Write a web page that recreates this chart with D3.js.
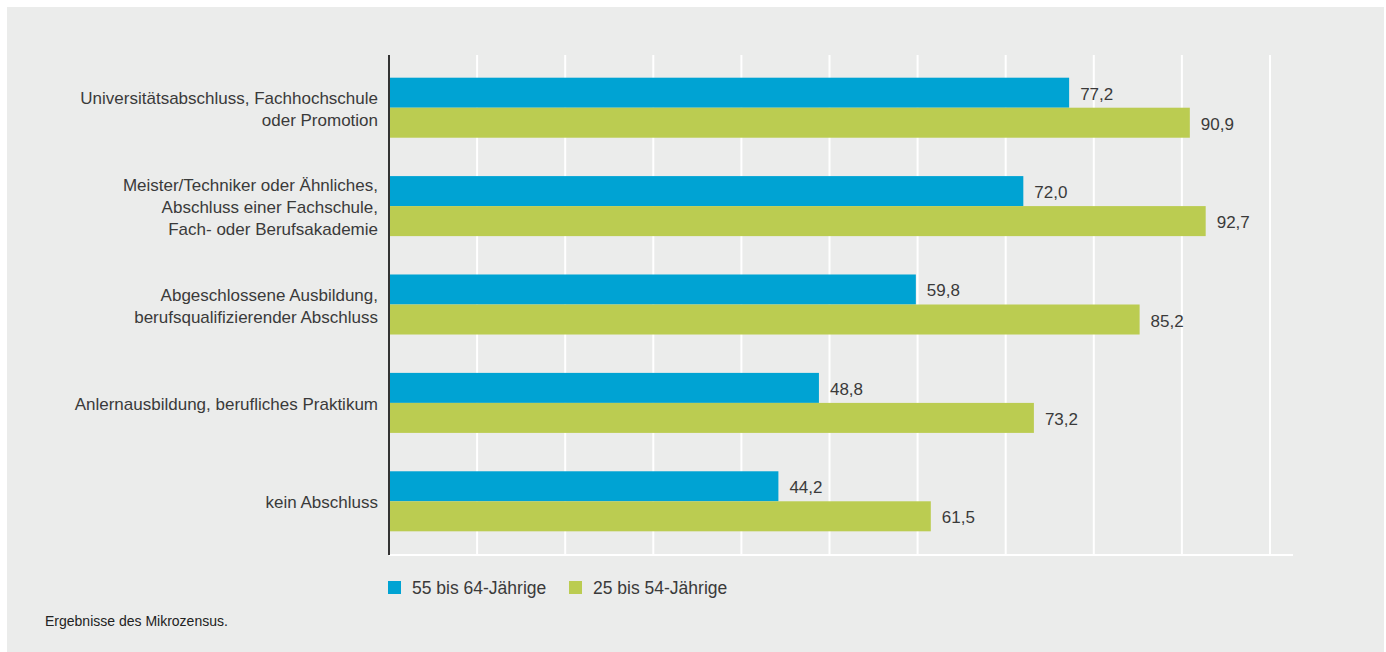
<!DOCTYPE html>
<html>
<head>
<meta charset="utf-8">
<script src="https://cdn.jsdelivr.net/npm/d3@7"></script>
<style>
html,body{margin:0;padding:0;background:#fff;}
svg{display:block;}
text{font-family:"Liberation Sans",Arial,Helvetica,sans-serif;}
</style>
</head>
<body>
<svg id="chart" width="1386" height="652"></svg>
<script>
const categories = [
  ["Universitätsabschluss, Fachhochschule", "oder Promotion"],
  ["Meister/Techniker oder Ähnliches,", "Abschluss einer Fachschule,", "Fach- oder Berufsakademie"],
  ["Abgeschlossene Ausbildung,", "berufsqualifizierender Abschluss"],
  ["Anlernausbildung, berufliches Praktikum"],
  ["kein Abschluss"]
];
const seriesNames = ["55 bis 64-Jährige", "25 bis 54-Jährige"];
const values55to64 = [77.2, 72.0, 59.8, 48.8, 44.2];
const values25to54 = [90.9, 92.7, 85.2, 73.2, 61.5];
const xTicks = [0, 10, 20, 30, 40, 50, 60, 70, 80, 90, 100];
const footnote = "Ergebnisse des Mikrozensus.";

const colors = ["#00a3d3", "#bbcc51"];
const textColor = "#3a3a3a";

const svg = d3.select("#chart");
// panel
svg.append("rect").attr("x", 7).attr("y", 7).attr("width", 1377).attr("height", 645).attr("fill", "#ebeceb");

const x = d3.scaleLinear().domain([0, 100]).range([389, 1270]);
const idx = categories.map((d, i) => i);
const y0 = d3.scaleBand().domain(idx).range([59, 550]).paddingInner(0.39).paddingOuter(0.19);
const y1 = d3.scaleBand().domain([0, 1]).range([0, y0.bandwidth()]);

// gridlines
svg.append("g").selectAll("line").data(xTicks.filter(t => t > 0)).join("line")
  .attr("x1", d => x(d)).attr("x2", d => x(d))
  .attr("y1", 55).attr("y2", 555)
  .attr("stroke", "#ffffff").attr("stroke-width", 2);
// baseline
svg.append("line").attr("x1", x(0)).attr("x2", 1293).attr("y1", 555).attr("y2", 555)
  .attr("stroke", "#ffffff").attr("stroke-width", 2);

const series = [values55to64, values25to54];
const g = svg.append("g");
series.forEach((vals, s) => {
  g.append("g").selectAll("rect").data(vals).join("rect")
    .attr("x", x(0))
    .attr("y", (d, i) => y0(i) + y1(s))
    .attr("width", d => x(d) - x(0))
    .attr("height", y1.bandwidth())
    .attr("fill", colors[s]);
  g.append("g").selectAll("text").data(vals).join("text")
    .attr("x", d => x(d) + 11)
    .attr("y", (d, i) => y0(i) + y1(s) + y1.bandwidth() / 2 + 7)
    .attr("font-size", 17)
    .attr("fill", textColor)
    .text(d => d3.format(".1f")(d).replace(".", ","));
});

// axis line
svg.append("line").attr("x1", x(0)).attr("x2", x(0)).attr("y1", 55).attr("y2", 555)
  .attr("stroke", "#333333").attr("stroke-width", 2);

// category labels
const lab = svg.append("g");
categories.forEach((lines, i) => {
  const c = y0(i) + y0.bandwidth() / 2;
  const t = lab.append("text").attr("text-anchor", "end").attr("font-size", 17).attr("fill", textColor);
  lines.forEach((ln, j) => {
    t.append("tspan").attr("x", 378)
      .attr("y", c + (j - (lines.length - 1) / 2) * 22 + 7)
      .text(ln);
  });
});

// legend
const leg = svg.append("g");
const legX = [388, 569];
seriesNames.forEach((n, s) => {
  leg.append("rect").attr("x", legX[s]).attr("y", 581).attr("width", 13).attr("height", 13).attr("fill", colors[s]);
  leg.append("text").attr("x", legX[s] + 24).attr("y", 594).attr("font-size", 17.5).attr("fill", textColor).text(n);
});

// footnote
svg.append("text").attr("x", 45).attr("y", 626).attr("font-size", 14).attr("fill", "#222").text(footnote);
</script>
</body>
</html>
